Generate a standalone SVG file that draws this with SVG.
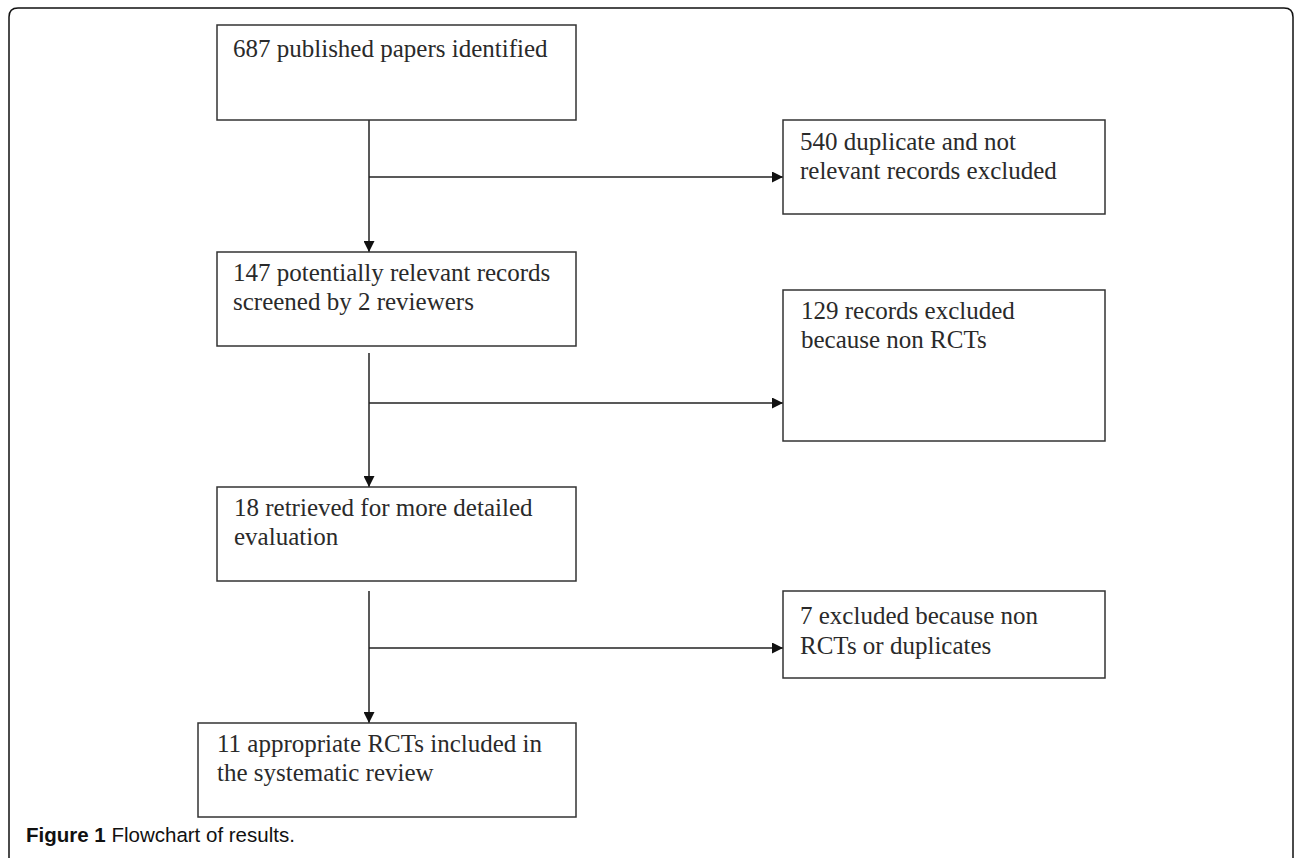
<svg xmlns="http://www.w3.org/2000/svg" width="1295" height="858" viewBox="0 0 1295 858">
<style>
.box{fill:#fff;stroke:#333;stroke-width:1.5}
.t{font-family:"Liberation Serif","Times New Roman",serif;font-size:25px;fill:#2a2a2a}
.c{stroke:#222;stroke-width:1.5;fill:none}
.cap{font-family:"Liberation Sans",Arial,sans-serif;font-size:20.5px;fill:#111}
</style>
<defs>
<marker id="ah" viewBox="0 0 10 10" refX="10" refY="5" markerWidth="11" markerHeight="11" markerUnits="userSpaceOnUse" orient="auto">
<path d="M0,0 L10,5 L0,10 Z" fill="#111"/>
</marker>
</defs>
<rect width="1295" height="858" fill="#fff"/>
<path d="M9,870 L9,17 Q9,8 18,8 L1284,8 Q1293,8 1293,17 L1293,870" fill="none" stroke="#111" stroke-width="1.5"/>
<g id="connectors">
<line class="c" x1="369" y1="120" x2="369" y2="252" marker-end="url(#ah)"/>
<line class="c" x1="369" y1="177" x2="783" y2="177" marker-end="url(#ah)"/>
<line class="c" x1="369" y1="353" x2="369" y2="487" marker-end="url(#ah)"/>
<line class="c" x1="369" y1="403" x2="783" y2="403" marker-end="url(#ah)"/>
<line class="c" x1="369" y1="591" x2="369" y2="723" marker-end="url(#ah)"/>
<line class="c" x1="369" y1="648" x2="783" y2="648" marker-end="url(#ah)"/>
</g>
<g id="n1"><rect class="box" x="217" y="25" width="359" height="95"/><text class="t" x="233" y="57">687 published papers identified</text></g>
<g id="n2"><rect class="box" x="217" y="252" width="359" height="94"/><text class="t" x="233" y="281">147 potentially relevant records</text><text class="t" x="233" y="310">screened by 2 reviewers</text></g>
<g id="n3"><rect class="box" x="217" y="487" width="359" height="94"/><text class="t" x="234" y="516">18 retrieved for more detailed</text><text class="t" x="234" y="545">evaluation</text></g>
<g id="n4"><rect class="box" x="198" y="723" width="378" height="94"/><text class="t" x="217" y="752">11 appropriate RCTs included in</text><text class="t" x="217" y="781">the systematic review</text></g>
<g id="r1"><rect class="box" x="783" y="120" width="322" height="94"/><text class="t" x="800" y="150">540 duplicate and not</text><text class="t" x="800" y="179">relevant records excluded</text></g>
<g id="r2"><rect class="box" x="783" y="290" width="322" height="151"/><text class="t" x="801" y="319">129 records excluded</text><text class="t" x="801" y="348">because non RCTs</text></g>
<g id="r3"><rect class="box" x="783" y="591" width="322" height="87"/><text class="t" x="800" y="624">7 excluded because non</text><text class="t" x="800" y="654">RCTs or duplicates</text></g>
<text class="cap" x="26" y="842"><tspan font-weight="bold">Figure 1</tspan> Flowchart of results.</text>
</svg>
